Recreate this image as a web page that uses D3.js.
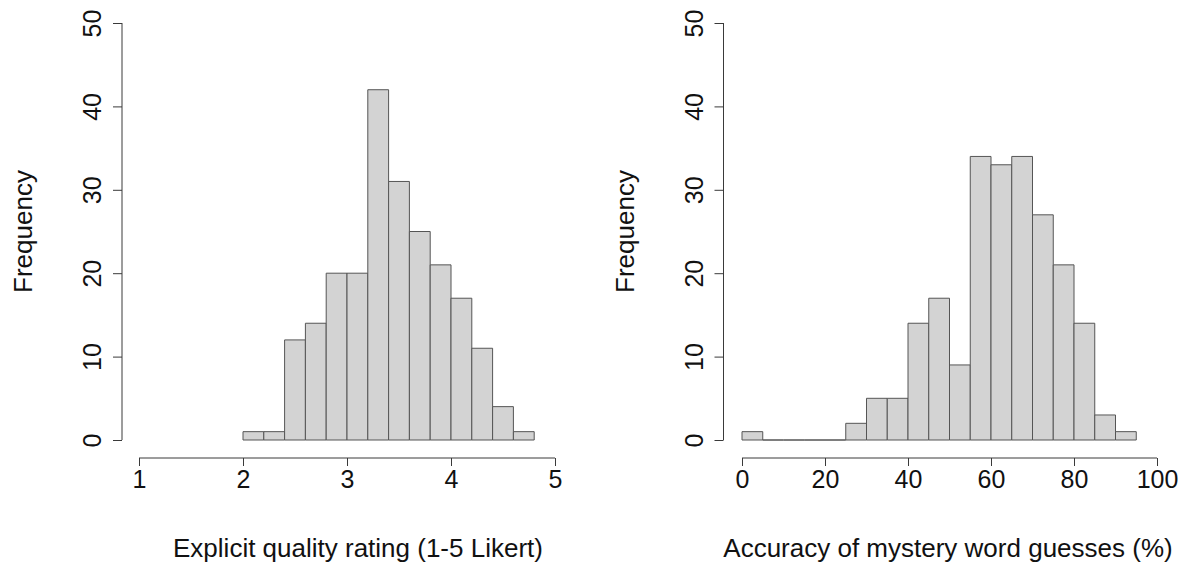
<!DOCTYPE html>
<html>
<head>
<meta charset="utf-8">
<script src="https://cdn.jsdelivr.net/npm/d3@7"></script>
<style>
  html, body { margin: 0; padding: 0; background: #fff; }
  svg { display: block; font-family: "Liberation Sans", Arial, sans-serif; }
</style>
</head>
<body>
<svg id="chart" width="1187" height="567"></svg>
<script>
// ---- Data ----
const qualityBreaks = [2.0, 2.2, 2.4, 2.6, 2.8, 3.0, 3.2, 3.4, 3.6, 3.8, 4.0, 4.2, 4.4, 4.6, 4.8];
const qualityCounts = [1, 1, 12, 14, 20, 20, 42, 31, 25, 21, 17, 11, 4, 1];
const qualityTicks = [1, 2, 3, 4, 5];

const accuracyBreaks = [0, 5, 10, 15, 20, 25, 30, 35, 40, 45, 50, 55, 60, 65, 70, 75, 80, 85, 90, 95];
const accuracyCounts = [1, 0, 0, 0, 0, 2, 5, 5, 14, 17, 9, 34, 33, 34, 27, 21, 14, 3, 1];
const accuracyTicks = [0, 20, 40, 60, 80, 100];

const freqTicks = [0, 10, 20, 30, 40, 50];

const yTitle = "Frequency";
const leftXTitle = "Explicit quality rating (1-5 Likert)";
const rightXTitle = "Accuracy of mystery word guesses (%)";

// ---- Drawing ----
const svg = d3.select("#chart");
const axisColor = "#3a3a3a";
const barFill = "#d3d3d3";
const barStroke = "#555555";

function panel(cfg) {
  const g = svg.append("g");
  const x = d3.scaleLinear().domain(cfg.xDomain).range(cfg.xRange);
  const y = d3.scaleLinear().domain([0, 50]).range([440, 23]);

  const bins = cfg.counts.map((c, i) => ({ x0: cfg.breaks[i], x1: cfg.breaks[i + 1], n: c }));

  g.selectAll("path.bar").data(bins).enter().append("path")
    .attr("class", "bar")
    .attr("d", d => {
      const p = d3.path();
      p.moveTo(x(d.x0), y(0));
      p.lineTo(x(d.x0), y(d.n));
      p.lineTo(x(d.x1), y(d.n));
      p.lineTo(x(d.x1), y(0));
      p.closePath();
      return p.toString();
    })
    .attr("fill", barFill)
    .attr("stroke", barStroke)
    .attr("stroke-width", 1);

  // y axis
  const yAxis = d3.axisLeft(y).tickValues(freqTicks).tickSize(9).tickPadding(0).tickFormat(d3.format("d"));
  const ya = g.append("g").attr("transform", `translate(${cfg.yAxisX},0)`).call(yAxis);
  ya.select(".domain").attr("d", `M0,${y(0)}V${y(50)}`).attr("stroke", axisColor);
  ya.selectAll(".tick line").attr("stroke", axisColor);
  ya.selectAll(".tick text")
    .attr("x", null).attr("dy", null)
    .attr("transform", "translate(-21,0) rotate(-90)")
    .attr("text-anchor", "middle")
    .attr("fill", "#111")
    .style("font-size", "25px")
    .style("font-family", "Liberation Sans, Arial, sans-serif");

  // x axis
  const xAxis = d3.axisBottom(x).tickValues(cfg.ticks).tickSize(8).tickPadding(0).tickFormat(d3.format("d"));
  const xa = g.append("g").attr("transform", "translate(0,458)").call(xAxis);
  xa.select(".domain").attr("d", `M${x(cfg.ticks[0])},0H${x(cfg.ticks[cfg.ticks.length - 1])}`).attr("stroke", axisColor);
  xa.selectAll(".tick line").attr("stroke", axisColor);
  xa.selectAll(".tick text")
    .attr("y", 30).attr("dy", null)
    .attr("fill", "#111")
    .style("font-size", "25px")
    .style("font-family", "Liberation Sans, Arial, sans-serif");

  // titles
  g.append("text")
    .attr("transform", `translate(${cfg.yAxisX - 90},231.5) rotate(-90)`)
    .attr("text-anchor", "middle")
    .attr("fill", "#111")
    .style("font-size", "26px")
    .text(yTitle);

  g.append("text")
    .attr("x", cfg.titleX).attr("y", 557)
    .attr("text-anchor", "middle")
    .attr("fill", "#111")
    .style("font-size", "26px")
    .text(cfg.title);
}

panel({
  breaks: qualityBreaks, counts: qualityCounts, ticks: qualityTicks,
  xDomain: [1, 5], xRange: [139, 555], yAxisX: 122, titleX: 358, title: leftXTitle
});
panel({
  breaks: accuracyBreaks, counts: accuracyCounts, ticks: accuracyTicks,
  xDomain: [0, 100], xRange: [742, 1157], yAxisX: 723.5, titleX: 948, title: rightXTitle
});
</script>
</body>
</html>
